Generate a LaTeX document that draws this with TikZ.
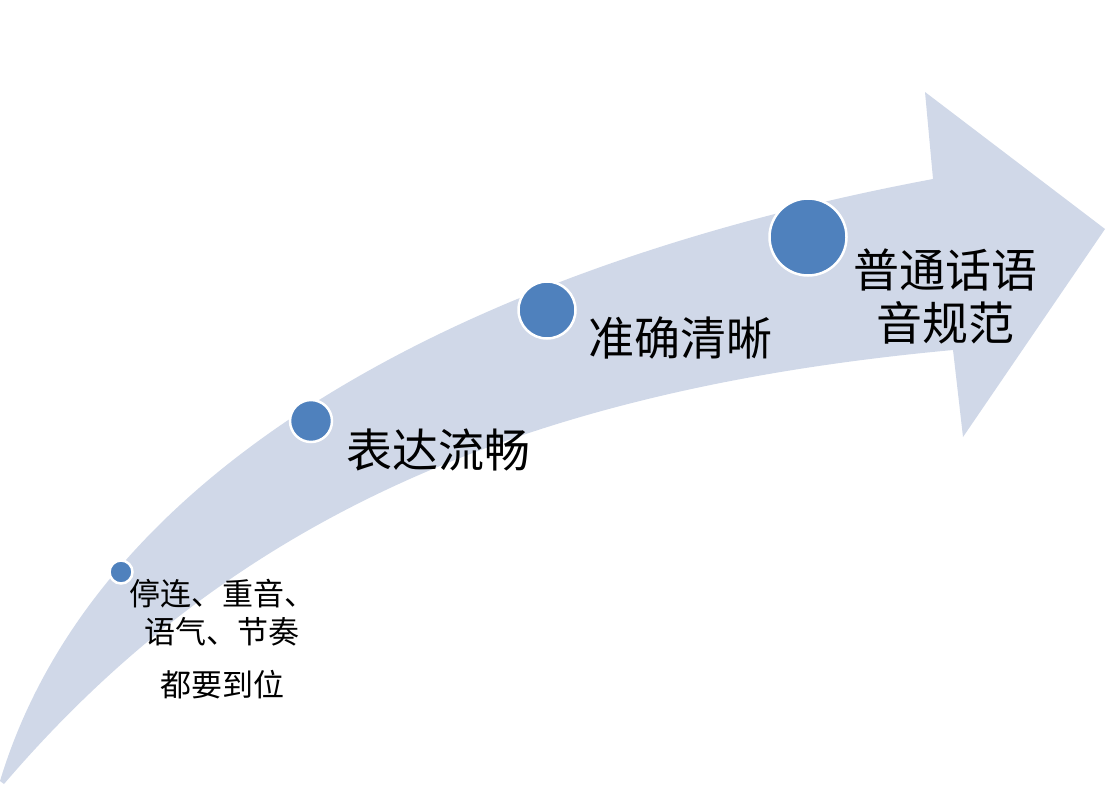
\documentclass[tikz,border=0pt]{standalone}
\usepackage{fontspec}
\usepackage{xcolor}
\setmainfont{Noto Sans CJK SC}
\definecolor{bandblue}{RGB}{208,216,232}
\definecolor{dotblue}{RGB}{79,129,189}

\begin{document}
\begin{tikzpicture}[
  x=1pt, y=-1pt,
  dot/.style={circle,fill=dotblue,draw=white,line width=2.5pt,inner sep=0pt},
  bigtext/.style={font=\fontsize{46}{53}\selectfont,align=center,inner sep=0pt},
  smalltext/.style={font=\fontsize{31}{38}\selectfont,align=center,inner sep=0pt}
]
  \useasboundingbox (0,0) rectangle (1107,784);
  \fill[bandblue] (0,781) .. controls (100,450) and (500,260) .. (933,179)
    -- (925,92) -- (1105,229) -- (963,437) -- (953,350)
    .. controls (520,390) and (230,520) .. (4,784) -- cycle;
  \node[dot,minimum size=23pt] (c1) at (121,572) {};
  \node[dot,minimum size=42pt] (c2) at (311,421) {};
  \node[dot,minimum size=57pt] (c3) at (547,310) {};
  \node[dot,minimum size=77pt] (c4) at (808,237) {};
  \node[smalltext] (t1) at (222,639) {停连、重音、\\语气、节奏\\[15pt]都要到位};
  \node[bigtext] (t2) at (438,450) {表达流畅};
  \node[bigtext] (t3) at (680,338) {准确清晰};
  \node[bigtext] (t4) at (945,296) {普通话语\\音规范};
\end{tikzpicture}
\end{document}
